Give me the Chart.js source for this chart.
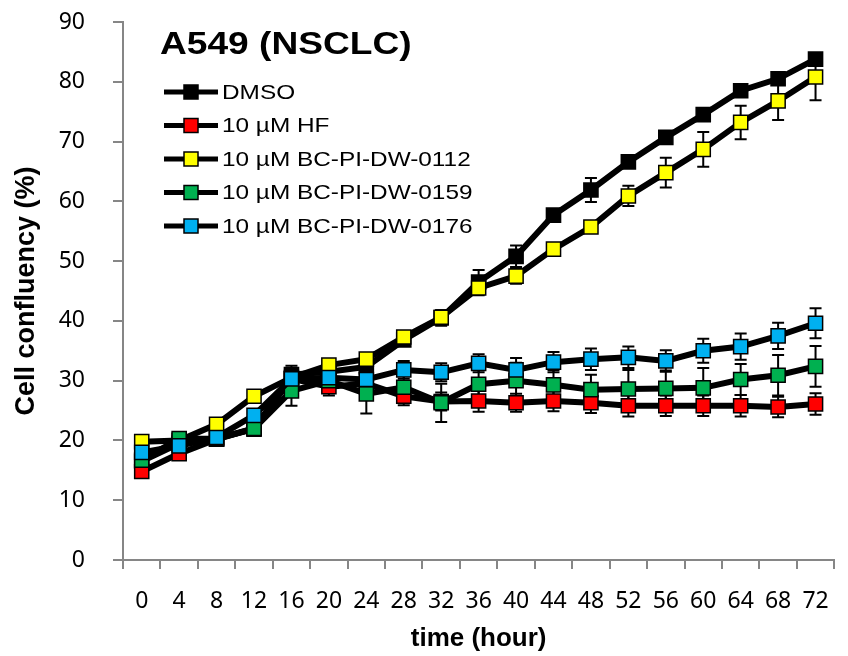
<!DOCTYPE html>
<html>
<head>
<meta charset="utf-8">
<script src="https://cdn.jsdelivr.net/npm/chart.js@4"></script>
<style>
  html, body { margin: 0; padding: 0; background: #fff; }
  #wrap { width: 848px; height: 656px; }
</style>
</head>
<body>
<div id="wrap"><canvas id="grafica" width="848" height="656"></canvas></div>
<script>
"use strict";

// eje x: horas
const horas = ["0", "4", "8", "12", "16", "20", "24", "28", "32", "36", "40", "44", "48", "52", "56", "60", "64", "68", "72"];

// medias (%)
const dmso   = [16.5, 19.5, 20.3, 21.9, 31.0, 31.5, 32.3, 36.8, 40.5, 46.5, 50.8, 57.7, 61.9, 66.6, 70.7, 74.5, 78.5, 80.5, 83.8];
const hf     = [14.8, 17.8, 20.2, 22.0, 30.3, 29.0, 29.5, 27.4, 26.5, 26.6, 26.3, 26.6, 26.3, 25.8, 25.8, 25.8, 25.8, 25.6, 26.1];
const bc0112 = [19.8, 20.0, 22.7, 27.4, 30.5, 32.6, 33.6, 37.3, 40.6, 45.5, 47.5, 52.0, 55.7, 60.9, 64.8, 68.7, 73.2, 76.8, 80.8];
const bc0159 = [16.7, 20.3, 20.3, 22.0, 28.3, 30.0, 27.8, 28.9, 26.3, 29.4, 30.0, 29.3, 28.5, 28.6, 28.7, 28.8, 30.2, 30.9, 32.4];
const bc0176 = [18.0, 19.1, 20.5, 24.2, 30.3, 30.5, 30.2, 31.8, 31.4, 32.9, 31.8, 33.1, 33.6, 33.9, 33.3, 35.0, 35.7, 37.5, 39.6];

// desvio (+/-)
const errDmso   = [0.8, 0.8, 0.8, 0.8, 1.5, 1.2, 1.3, 1.0, 1.3, 2.0, 1.8, 1.0, 2.0, 1.0, 1.0, 1.0, 1.0, 1.0, 1.0];
const errHf     = [1.0, 0.8, 1.0, 1.0, 1.5, 1.5, 1.5, 1.5, 1.5, 1.8, 1.5, 1.7, 1.7, 1.8, 1.7, 1.7, 1.8, 1.7, 1.8];
const err0112   = [0.8, 0.8, 0.8, 0.8, 1.2, 1.0, 1.0, 1.0, 1.2, 1.2, 1.3, 0.8, 1.0, 1.7, 2.5, 2.9, 2.8, 3.2, 3.9];
const err0159   = [1.0, 1.0, 1.0, 1.0, 2.5, 2.0, 3.3, 2.5, 3.2, 3.0, 3.0, 2.5, 2.5, 3.2, 3.0, 3.3, 2.6, 3.4, 3.4];
const err0176   = [1.0, 1.0, 1.0, 1.0, 1.5, 1.5, 1.5, 1.5, 1.5, 1.5, 2.0, 1.7, 1.8, 1.8, 1.8, 2.0, 2.2, 2.2, 2.5];

const GRIS = "#868686";
const ESTIRAR = 1.16; // el texto original esta estirado a lo ancho

function serie(label, data, err, color, orden) {
    return {
        label: label,
        data: data,
        err: err,
        borderColor: "#000",
        borderWidth: 6,
        backgroundColor: color,
        pointBackgroundColor: color,
        pointBorderColor: "#000",
        pointBorderWidth: 1.5,
        pointStyle: "rect",
        pointRadius: 10,
        pointHoverRadius: 10,
        tension: 0,
        order: orden
    };
}

// barras de error (dibujadas debajo de las lineas)
const barrasError = {
    id: "barrasError",
    beforeDatasetsDraw(chart) {
        const ctx = chart.ctx;
        const y = chart.scales.y;
        ctx.save();
        ctx.strokeStyle = "#000";
        ctx.lineWidth = 2;
        chart.data.datasets.forEach((ds, i) => {
            const meta = chart.getDatasetMeta(i);
            meta.data.forEach((p, j) => {
                const top = y.getPixelForValue(ds.data[j] + ds.err[j]);
                const bot = y.getPixelForValue(ds.data[j] - ds.err[j]);
                ctx.beginPath();
                ctx.moveTo(p.x, top); ctx.lineTo(p.x, bot);
                ctx.moveTo(p.x - 6, top); ctx.lineTo(p.x + 6, top);
                ctx.moveTo(p.x - 6, bot); ctx.lineTo(p.x + 6, bot);
                ctx.stroke();
            });
        });
        ctx.restore();
    }
};

function textoAncho(ctx, txt, x, y) {
    ctx.save();
    ctx.translate(x, y);
    ctx.scale(ESTIRAR, 1);
    ctx.fillText(txt, 0, 0);
    ctx.restore();
}

// titulo y leyenda dentro del area del grafico
const leyenda = {
    id: "leyenda",
    afterDraw(chart) {
        const ctx = chart.ctx;
        ctx.save();
        ctx.fillStyle = "#000";
        ctx.textBaseline = "middle";
        ctx.textAlign = "left";
        ctx.font = "bold 32px 'Liberation Sans', Arial, sans-serif";
        textoAncho(ctx, "A549 (NSCLC)", 160, 45);

        ctx.font = "21px 'Liberation Sans', Arial, sans-serif";
        chart.data.datasets.forEach((ds, i) => {
            const yy = 92 + i * 33.5;
            ctx.strokeStyle = "#000";
            ctx.lineWidth = 5;
            ctx.beginPath();
            ctx.moveTo(164, yy); ctx.lineTo(218, yy);
            ctx.stroke();
            ctx.fillStyle = ds.pointBackgroundColor;
            ctx.fillRect(184, yy - 7, 14, 14);
            ctx.lineWidth = 1.5;
            ctx.strokeRect(184, yy - 7, 14, 14);
            ctx.fillStyle = "#000";
            textoAncho(ctx, ds.label, 222, yy + 1);
        });
        ctx.restore();
    }
};

const ctx = document.getElementById("grafica").getContext("2d");

new Chart(ctx, {
    type: "line",
    data: {
        labels: horas,
        datasets: [
            serie("DMSO", dmso, errDmso, "#000000", 5),
            serie("10 µM HF", hf, errHf, "#FF0000", 4),
            serie("10 µM BC-PI-DW-0112", bc0112, err0112, "#FFFF00", 3),
            serie("10 µM BC-PI-DW-0159", bc0159, err0159, "#00B050", 2),
            serie("10 µM BC-PI-DW-0176", bc0176, err0176, "#00B0F0", 1)
        ]
    },
    options: {
        responsive: false,
        animation: false,
        layout: { padding: { top: 22, right: 1, left: 0, bottom: 0 } },
        plugins: {
            legend: { display: false },
            tooltip: { enabled: false }
        },
        scales: {
            x: {
                type: "category",
                offset: true,
                grid: { offset: true, drawOnChartArea: false, tickLength: 9, color: GRIS, lineWidth: 2 },
                border: { color: GRIS, width: 2 },
                ticks: { color: "#000", padding: 19, maxRotation: 0, autoSkip: false,
                         font: { family: "'Noto Sans', sans-serif", size: 23 } },
                title: { display: true, text: "time (hour)", color: "#000", padding: { top: 0, bottom: 2 },
                         font: { family: "'Liberation Sans', Arial, sans-serif", size: 26, weight: "bold" } },
                afterFit: s => { s.height = 96; }
            },
            y: {
                min: 0,
                max: 90,
                ticks: { stepSize: 10, color: "#000", padding: 28,
                         font: { family: "'Noto Sans', sans-serif", size: 23 } },
                grid: { drawOnChartArea: false, tickLength: 10, color: GRIS, lineWidth: 2 },
                border: { color: GRIS, width: 2 },
                title: { display: true, text: "Cell confluency (%)", color: "#000", padding: { top: 10, bottom: 0 },
                         font: { family: "'Liberation Sans', Arial, sans-serif", size: 27, weight: "bold" } },
                afterFit: s => { s.width = 123; s.paddingTop = 0; s.paddingBottom = 0; }
            }
        }
    },
    plugins: [barrasError, leyenda]
});
</script>
</body>
</html>
